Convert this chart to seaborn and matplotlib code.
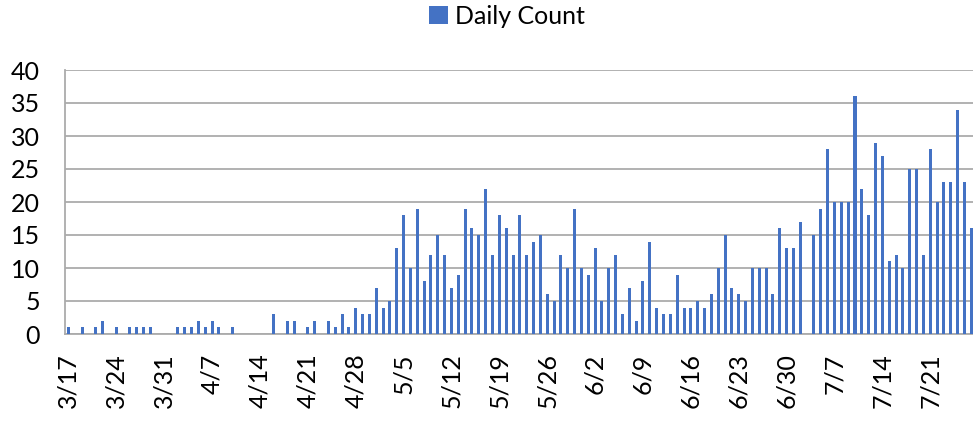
import matplotlib
matplotlib.use("Agg")
import matplotlib.pyplot as plt
import seaborn as sns
import numpy as np
import pandas as pd
from matplotlib.patches import Patch

# ---- data ----
start_date = "2020-03-17"
end_date = "2020-07-27"
# non-zero daily counts: day index (0 = 3/17) -> count
nonzero_days = [0, 2, 4, 5, 7, 9, 10, 11, 12, 16, 17, 18, 19, 20, 21, 22, 24,
                30, 32, 33, 35, 36, 38, 39, 40, 41, 42, 43, 44, 45, 46, 47, 48, 49,
                50, 51, 52, 53, 54, 55, 56, 57, 58, 59, 60, 61, 62, 63, 64, 65, 66,
                67, 68, 69, 70, 71, 72, 73, 74, 75, 76, 77, 78, 79, 80, 81, 82, 83,
                84, 85, 86, 87, 88, 89, 90, 91, 92, 93, 94, 95, 96, 97, 98, 99, 100,
                101, 102, 103, 104, 105, 106, 107, 109, 110, 111, 112, 113, 114, 115,
                116, 117, 118, 119, 120, 121, 122, 123, 124, 125, 126, 127, 128, 129,
                130, 131, 132]
nonzero_counts = [1, 1, 1, 2, 1, 1, 1, 1, 1, 1, 1, 1, 2, 1, 2, 1, 1,
                  3, 2, 2, 1, 2, 2, 1, 3, 1, 4, 3, 3, 7, 4, 5, 13, 18,
                  10, 19, 8, 12, 15, 12, 7, 9, 19, 16, 15, 22, 12, 18, 16, 12, 18,
                  12, 14, 15, 6, 5, 12, 10, 19, 10, 9, 13, 5, 10, 12, 3, 7, 2,
                  8, 14, 4, 3, 3, 9, 4, 4, 5, 4, 6, 10, 15, 7, 6, 5, 10,
                  10, 10, 6, 16, 13, 13, 17, 15, 19, 28, 20, 20, 20, 36,
                  22, 18, 29, 27, 11, 12, 10, 25, 25, 12, 28, 20, 23, 23,
                  34, 23, 16]
series_label = "Daily Count"
y_ticks = [0, 5, 10, 15, 20, 25, 30, 35, 40]

dates = pd.date_range(start_date, end_date, freq="D")
counts = np.zeros(len(dates), dtype=int)
counts[nonzero_days] = nonzero_counts
date_labels = [f"{d.month}/{d.day}" for d in dates]
df = pd.DataFrame({"date": date_labels, "count": counts})

# ---- style ----
sns.set_style("white")
plt.rcParams["font.family"] = ["Lato", "DejaVu Sans"]
plt.rcParams["text.color"] = "black"
bar_color = "#4472C4"
grid_color = "#ababab"
fs = 18

fig = plt.figure(figsize=(9.73, 4.21), dpi=100)
W, H = 973, 421
ax = fig.add_axes([65 / W, 87 / H, (974.7 - 65) / W, 264 / H])

sns.barplot(data=df, x="date", y="count", color=bar_color, width=0.44,
            saturation=1, ax=ax, zorder=3)
for p in ax.patches:
    p.set_antialiased(False)
    p.set_linewidth(0)

n = len(dates)
ax.set_xlim(-0.5, n - 0.5)
ax.set_ylim(0, 40)
ax.set_yticks(y_ticks)
ax.set_yticklabels([str(v) for v in y_ticks])
ax.yaxis.grid(True, color=grid_color, lw=1.3, zorder=0)
ax.set_axisbelow(True)

# labels at weekly category centres, tick marks at category boundaries
label_pos = list(range(0, n, 7))
ax.set_xticks(label_pos)
ax.set_xticklabels([date_labels[i] for i in label_pos], rotation=90,
                   ha="center", va="top")
ax.set_xticks([p - 0.5 for p in label_pos], minor=True)
ax.tick_params(axis="x", which="major", length=0, pad=14, labelsize=fs,
               labelcolor="black")
ax.tick_params(axis="x", which="minor", length=6.5, width=1.3, color=grid_color)
ax.tick_params(axis="y", which="major", length=6, width=1.3, color=grid_color,
               pad=12, labelsize=fs, labelcolor="black")
ax.set_xlabel("")
ax.set_ylabel("")

for side in ["top", "right"]:
    ax.spines[side].set_visible(False)
for side in ["left", "bottom"]:
    ax.spines[side].set_color(grid_color)
    ax.spines[side].set_linewidth(1.3)

handle = Patch(facecolor=bar_color, edgecolor="none", label=series_label)
leg = fig.legend(handles=[handle], loc="center", bbox_to_anchor=(507 / W, 1 - 16 / H),
                 frameon=False, fontsize=fs, handlelength=0.75, handleheight=0.75,
                 handletextpad=0.3)
for t in leg.get_texts():
    t.set_color("black")

fig.savefig("out.png", dpi=100)
